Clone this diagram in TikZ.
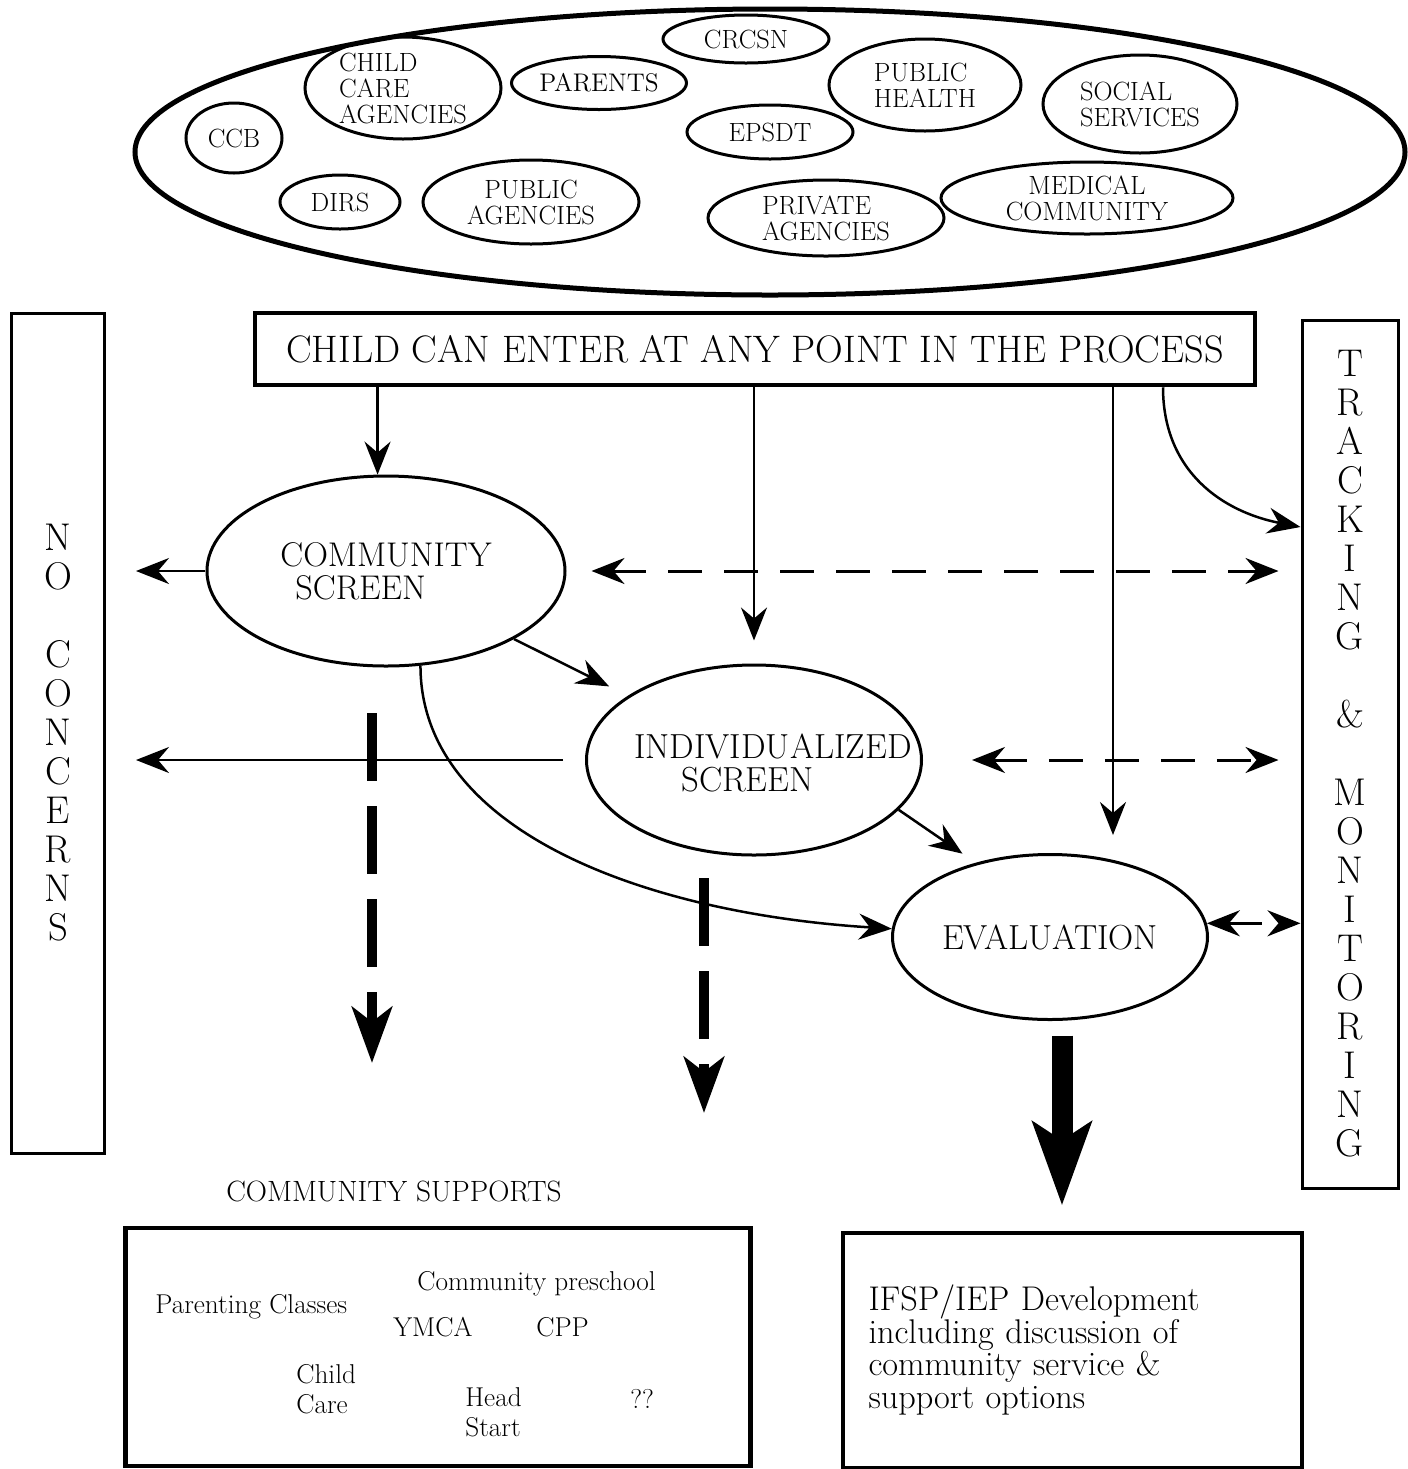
\documentclass[tikz,border=0pt]{standalone}
\usepackage{fontspec}
\usetikzlibrary{arrows.meta,shapes.geometric}

\tikzstyle{blob} = [draw, ellipse, line width=0.6mm, inner sep=0pt, align=left, font=\fontsize{15}{14.8}\selectfont]
\tikzstyle{stage} = [draw, ellipse, line width=0.6mm, inner sep=0pt, align=left, font=\fontsize{19.5}{18.7}\selectfont]
\tikzstyle{side} = [draw, line width=0.6mm, inner sep=0pt, align=center, font=\fontsize{22}{22.2}\selectfont]
\tikzstyle{flow} = [line width=0.5mm, -{Stealth[length=6.6mm,width=5.2mm,inset=2.2mm]}]
\tikzstyle{both} = [line width=0.6mm, dash pattern=on 6.8mm off 4.4mm, {Stealth[length=6.6mm,width=5.2mm,inset=2.2mm]}-{Stealth[length=6.6mm,width=5.2mm,inset=2.2mm]}]
\tikzstyle{fatdash} = [line width=2mm, dash pattern=on 13.6mm off 5mm, -{Stealth[length=11.2mm,width=8mm,inset=3mm]}]
\tikzstyle{fat} = [line width=4.2mm, -{Stealth[length=16.6mm,width=11.6mm,inset=3.6mm]}]
\tikzstyle{txt} = [anchor=base west, inner sep=0pt, align=left, font=\fontsize{15.5}{17}\selectfont]

\begin{document}
\begin{tikzpicture}[x=0.2mm,y=-0.2mm]
\useasboundingbox (0,0) rectangle (1408,1469);
% agencies
\node[draw, ellipse, line width=1mm, minimum width=254mm, minimum height=57.2mm] (pool) at (770,152) {};
\node[blob, minimum width=33.2mm, minimum height=9.6mm] (crcsn) at (746,39) {CRCSN};
\node[blob, minimum width=39.2mm, minimum height=20.4mm] (ccare) at (403,88) {CHILD\\CARE\\AGENCIES};
\node[blob, minimum width=35mm, minimum height=10.6mm, font=\fontsize{14.5}{14.8}\selectfont] (parents) at (599,83) {PARENTS};
\node[blob, minimum width=38.4mm, minimum height=18.4mm] (phealth) at (925,85) {PUBLIC\\HEALTH};
\node[blob, minimum width=38.8mm, minimum height=19.6mm] (social) at (1140,104) {SOCIAL\\SERVICES};
\node[blob, minimum width=33.2mm, minimum height=10.8mm] (epsdt) at (770,132) {EPSDT};
\node[blob, minimum width=19.2mm, minimum height=14mm] (ccb) at (234,138) {CCB};
\node[blob, minimum width=24mm, minimum height=10.8mm] (dirs) at (340,202) {DIRS};
\node[blob, align=center, minimum width=43.2mm, minimum height=16.8mm] (pubag) at (531,202) {PUBLIC\\AGENCIES};
\node[blob, minimum width=47.2mm, minimum height=15.2mm] (privag) at (826,218) {PRIVATE\\AGENCIES};
\node[blob, align=center, minimum width=58.4mm, minimum height=14.4mm] (medical) at (1087,198) {MEDICAL\\COMMUNITY};

% process
\node[side, minimum width=18.6mm, minimum height=168mm] (nocon) at (58,733)
  {N\\O\\[7.8mm]C\\O\\N\\C\\E\\R\\N\\S};
\node[side, minimum width=19.2mm, minimum height=173.6mm] (track) at (1350,754)
  {T\\R\\A\\C\\K\\I\\N\\G\\[7.8mm]\&\\[7.8mm]M\\O\\N\\I\\T\\O\\R\\I\\N\\G};
\node[draw, line width=0.9mm, minimum width=200mm, minimum height=14.4mm, font=\fontsize{21.8}{24}\selectfont] (entry) at (755,349) {CHILD CAN ENTER AT ANY POINT IN THE PROCESS};
\node[stage, minimum width=71.6mm, minimum height=38mm] (cscreen) at (386,571) {COMMUNITY\\\hspace*{3mm}SCREEN};
\node[stage, minimum width=67mm, minimum height=38mm] (indiv) at (754,760) {};
\node[font=\fontsize{19.8}{18.7}\selectfont, align=left] (indtxt) at (773,763) {INDIVIDUALIZED\\\hspace*{9.4mm}SCREEN};
\node[stage, minimum width=63mm, minimum height=33mm, font=\fontsize{19.8}{18.7}\selectfont] (eval) at (1050,937) {EVALUATION};

% supports
\node[font=\fontsize{16.7}{18}\selectfont] (cslabel) at (394,1191) {COMMUNITY SUPPORTS};
\node[draw, line width=0.9mm, minimum width=125mm, minimum height=47.6mm] (supports) at (438,1347) {};
\node[txt] (parenting) at (155,1313) {Parenting Classes};
\node[txt] (preschool) at (417,1290) {Community preschool};
\node[txt] (ymca) at (393,1336) {YMCA};
\node[txt] (cpp) at (536,1336) {CPP};
\node[txt] (childcare) at (296,1413) {Child\\Care};
\node[txt] (headstart) at (465,1436) {Head\\Start};
\node[txt] (unknown) at (630,1408) {??};
\node[draw, line width=0.8mm, inner xsep=5.2mm, text width=81.4mm, minimum height=47mm, align=left, font=\fontsize{19.5}{18.7}\selectfont] (ifsp) at (1072,1350) {IFSP/IEP Development\\including discussion of\\community service \&\\support options};

% connectors
\draw[flow] (entry.south -| cscreen.95) -- (cscreen.95);
\draw[flow, shorten >=4.6mm] (entry.south -| indiv.north) -- (indiv.north);
\coordinate (evaltop) at (1113,835);
\draw[flow] (entry.south -| evaltop) -- (evaltop);
\draw[flow] ([xshift=81.6mm]entry.south) .. controls +(0,85) and +(-77,-15) .. ([yshift=45.4mm]track.west);
\draw[flow, shorten >=6mm] (cscreen.west) -- (nocon.east |- cscreen.west);
\draw[both, shorten <=5mm, shorten >=4.4mm] (cscreen.east) -- (track.west |- cscreen.east);
\draw[flow, shorten >=4.2mm] (cscreen.-28) -- (indiv.153);
\draw[flow, shorten <=4.4mm, shorten >=6mm] (indiv.west) -- (nocon.east |- indiv.west);
\draw[both, shorten <=9.8mm, shorten >=4.4mm] (indiv.east) -- (track.west |- indiv.east);
\draw[flow, shorten >=3.2mm] (indiv.-19) -- (eval.135);
\draw[flow] (cscreen.-70) .. controls +(0,167) and +(-243,-15) .. (eval.177);
\draw[both] (eval.5) -- (track.west |- eval.5);
\coordinate (drop1) at (372,713);
\draw[fatdash] (drop1) -- ++(0,350);
\coordinate (drop2) at (704,878);
\draw[fatdash] (drop2) -- ++(0,235);
\draw[fat, shorten <=2.9mm, shorten >=5mm] ([xshift=2.4mm]eval.south) -- ([xshift=2.4mm]eval.south |- ifsp.north);
\end{tikzpicture}
\end{document}
